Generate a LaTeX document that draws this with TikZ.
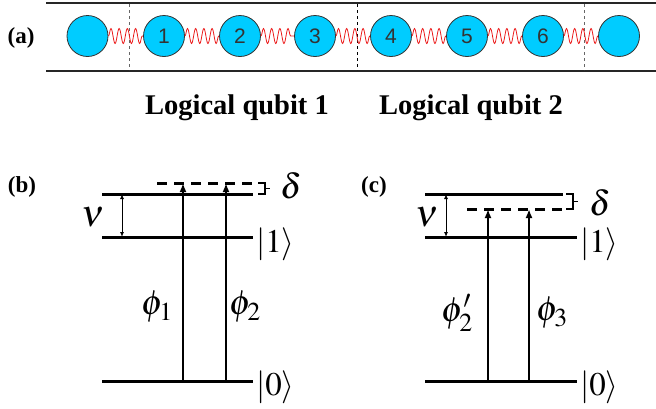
\documentclass[tikz,border=0pt]{standalone}
\usepackage{mathptmx}
\usepackage[no-math]{fontspec}
\setmainfont{Liberation Serif}
\newfontfamily\numfont{Liberation Sans}
\usetikzlibrary{arrows.meta, decorations.pathmorphing}

\definecolor{ioncyan}{RGB}{0,204,255}
\definecolor{springred}{RGB}{235,25,25}

\tikzset{
  ion/.style={circle, draw=black!80, line width=0.8pt, fill=ioncyan, minimum size=41pt,
    inner sep=0pt, text=black!80, font=\numfont\fontsize{21}{21}\selectfont},
  spring/.style={springred, line width=0.8pt, decorate,
    decoration={snake, segment length=8.2pt, amplitude=7.5pt}},
  rail/.style={line width=2.4pt, black!85},
  cut/.style={dashed, line width=0.8pt},
  level/.style={line width=3pt},
  virt/.style={level, dash pattern=on 10pt off 7pt},
  pulse/.style={line width=2.6pt, -{Latex[length=9pt, width=7pt]}},
  gap/.style={line width=0.9pt, {Latex[length=5pt, width=4pt]}-{Latex[length=5pt, width=4pt]}},
  brace/.style={line width=1.6pt},
  tag/.style={font=\bfseries\fontsize{23}{23}\selectfont},
  qlabel/.style={font=\bfseries\fontsize{28.5}{28.5}\selectfont},
  ket/.style={anchor=west, inner sep=0pt, font=\fontsize{33}{33}\selectfont},
  sym/.style={inner sep=0pt, font=\fontsize{35}{35}\selectfont},
  bigsym/.style={inner sep=0pt, font=\fontsize{38}{38}\selectfont},
}

\begin{document}
\begin{tikzpicture}[x=1pt, y=-1pt]
  \useasboundingbox (0,0) rectangle (656,408);

  % (a) ion chain
  \node[tag] (la) at (21,38) {(a)};
  \draw[rail] (46,3) -- (656,3);
  \draw[rail] (46,71) -- (656,71);
  \foreach \x/\c in {129/black!60, 357/black, 584/black!60}
    \draw[cut, \c] (\x,4) -- (\x,70);

  \node[ion] (q0) at (87.5,36) {};
  \foreach \n/\x in {1/164, 2/240, 3/315, 4/391, 5/467, 6/543}
    \node[ion] (q\n) at (\x,36) {\n};
  \node[ion] (q7) at (619,36) {};
  \foreach \a/\b in {0/1, 1/2, 2/3, 3/4, 4/5, 5/6, 6/7}
    \draw[spring] (q\a) -- (q\b);

  \node[qlabel] (lq1) at (237,108) {Logical qubit 1};
  \node[qlabel] (lq2) at (471,108) {Logical qubit 2};

  % (b) levels
  \node[tag] (lb) at (22,187) {(b)};
  \draw[level] (102,194) -- (253,194);
  \draw[virt] (157,183) -- (253,183);
  \draw[level] (102,237) -- (253,237);
  \draw[level] (102,381) -- (253,381);
  \foreach \x/\n in {183/1, 226/2} {
    \coordinate (bs\n) at (\x,381);
    \coordinate (be\n) at (\x,183);
    \draw[pulse] (bs\n) -- (be\n);
  }
  \coordinate (bnt) at (122,194);
  \coordinate (bnb) at (122,237);
  \draw[gap] (bnt) -- (bnb);
  \node[bigsym] (bnu) at (93,217) {$\nu$};
  \draw[brace] (258,183) -- (265,183) -- (265,194) -- (258,194)
               (265,188.5) -- (270,188.5);
  \node[sym] (bdelta) at (291,186) {$\delta$};
  \node[ket] (bk1) at (256,244) {$|1\rangle$};
  \node[ket] (bk0) at (256,387) {$|0\rangle$};
  \node[sym] (bphi1) at (157,307) {$\phi_1$};
  \node[sym] (bphi2) at (245,307) {$\phi_2$};

  % (c) levels
  \node[tag] (lc) at (374,187) {(c)};
  \draw[level] (425,194) -- (563,194);
  \draw[virt] (467,209) -- (563,209);
  \draw[level] (425,237) -- (577,237);
  \draw[level] (425,381) -- (577,381);
  \foreach \x/\n in {488/1, 529/2} {
    \coordinate (cs\n) at (\x,381);
    \coordinate (ce\n) at (\x,209);
    \draw[pulse] (cs\n) -- (ce\n);
  }
  \coordinate (cnt) at (446,194);
  \coordinate (cnb) at (446,237);
  \draw[gap] (cnt) -- (cnb);
  \node[bigsym] (cnu) at (427,217) {$\nu$};
  \draw[brace] (566,194) -- (573,194) -- (573,209) -- (566,209)
               (573,201.5) -- (578,201.5);
  \node[sym] (cdelta) at (600,203) {$\delta$};
  \node[ket] (ck1) at (580,244) {$|1\rangle$};
  \node[ket] (ck0) at (580,387) {$|0\rangle$};
  \node[sym] (cphi2) at (457,313) {$\phi_2'$};
  \node[sym] (cphi3) at (552,313) {$\phi_3$};
\end{tikzpicture}
\end{document}
